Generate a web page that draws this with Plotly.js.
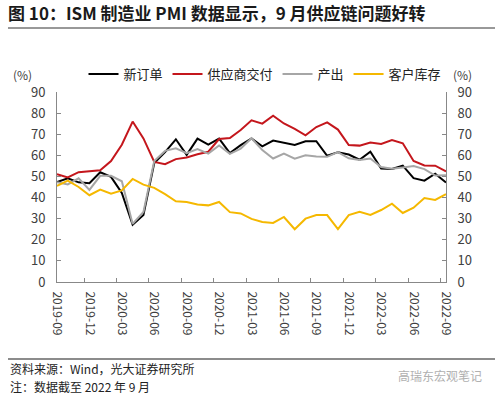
<!DOCTYPE html>
<html>
<head>
<meta charset="utf-8">
<script src="https://cdn.plot.ly/plotly-3.0.1.min.js"></script>
<style>
html,body{margin:0;padding:0;background:#fff;}
#chart{width:500px;height:395px;}
</style>
</head>
<body>
<div id="chart"></div>
<script>
const months = ["2019-09","2019-10","2019-11","2019-12","2020-01","2020-02","2020-03","2020-04","2020-05","2020-06","2020-07","2020-08","2020-09","2020-10","2020-11","2020-12","2021-01","2021-02","2021-03","2021-04","2021-05","2021-06","2021-07","2021-08","2021-09","2021-10","2021-11","2021-12","2022-01","2022-02","2022-03","2022-04","2022-05","2022-06","2022-07","2022-08","2022-09"];
const tickLabels = ["2019-09","2019-12","2020-03","2020-06","2020-09","2020-12","2021-03","2021-06","2021-09","2021-12","2022-03","2022-06","2022-09"];

// 新订单
const newOrders = [47.3,49.1,47.2,46.8,52.0,49.8,42.2,27.1,31.8,56.4,61.5,67.6,60.2,67.9,65.1,67.9,61.1,64.8,68.0,64.3,67.0,66.0,64.9,66.7,66.7,59.8,61.5,60.4,57.9,61.7,53.8,53.5,55.1,49.2,48.0,51.3,47.1];
// 供应商交付
const supplierDeliveries = [51.1,49.5,52.0,52.5,52.9,57.3,65.0,76.0,68.0,56.9,55.8,58.2,59.0,60.5,61.7,67.7,68.2,72.0,76.6,75.0,78.8,75.1,72.5,69.5,73.4,75.6,72.2,64.9,64.6,66.1,65.4,67.2,65.7,57.3,55.2,55.1,52.4];
// 产出
const production = [47.3,46.2,49.1,43.6,50.3,50.3,47.7,27.5,33.2,57.3,62.1,63.3,61.0,63.0,60.8,64.7,60.7,63.2,68.1,62.5,58.5,60.8,58.4,60.0,59.4,59.3,61.5,58.6,57.8,58.5,54.5,53.6,54.2,54.9,53.5,50.4,50.6];
// 客户库存
const customerInventories = [45.5,48.0,45.0,41.1,43.8,41.8,43.4,48.8,46.1,44.6,41.6,38.2,37.9,36.7,36.3,37.9,33.1,32.5,29.9,28.4,28.0,30.8,25.0,30.0,31.7,31.7,25.1,31.7,33.2,31.8,34.1,37.1,32.7,35.2,39.8,38.9,41.6];

const seriesNames = ["新订单","供应商交付","产出","客户库存"];
const seriesColors = ["#000000","#C4161C","#A6A6A6","#F5B800"];
const seriesData = [newOrders, supplierDeliveries, production, customerInventories];

const FONT = '"Noto Sans CJK SC", "Noto Sans", sans-serif';

const traces = seriesData.map((d,i)=>({
  type:'scatter', mode:'lines', x: months, y: d, name: seriesNames[i],
  line:{color: seriesColors[i], width:2}, hoverinfo:'skip'
}));
// invisible trace to activate the right axis
traces.push({type:'scatter', mode:'lines', x: months, y: newOrders, yaxis:'y2',
  line:{width:0, color:'rgba(0,0,0,0)'}, showlegend:false, hoverinfo:'skip'});

const axisCommon = {
  range:[0,90], dtick:10, tick0:0, ticks:'inside', ticklen:4, tickcolor:'#888',
  showline:true, linecolor:'#888', linewidth:1, showgrid:false, zeroline:false,
  tickfont:{family:FONT, size:13, color:'#404040'}, ticklabelstandoff:8, fixedrange:true
};

const layout = {
  width:500, height:395,
  margin:{l:57, r:54, t:92, b:113},
  paper_bgcolor:'#fff', plot_bgcolor:'#fff',
  font:{family:FONT, color:'#222'},
  title:{text:'<b>图 10：ISM 制造业 PMI 数据显示，9 月供应链问题好转</b>',
    font:{family:FONT, size:17, color:'#1a1a1a'},
    xref:'container', x:0.016, xanchor:'left', yref:'container', y:1-14/395, yanchor:'middle'},
  showlegend:true,
  legend:{orientation:'h', xref:'container', x:0.167, xanchor:'left', yref:'container', y:1-74/395, yanchor:'middle',
    font:{family:FONT, size:13, color:'#222'}, itemgap:0, bgcolor:'rgba(0,0,0,0)'},
  xaxis:{type:'category', tickmode:'array', tickvals:tickLabels, ticktext:tickLabels,
    tickangle:90, ticks:'inside', ticklen:4, tickcolor:'#888', tickson:'boundaries',
    showline:true, linecolor:'#888', linewidth:1, showgrid:false, zeroline:false,
    tickfont:{family:FONT, size:12, color:'#404040'}, ticklabelstandoff:6, fixedrange:true},
  yaxis: Object.assign({}, axisCommon, {side:'left'}),
  yaxis2: Object.assign({}, axisCommon, {side:'right', overlaying:'y'}),
  shapes:[
    {type:'line', xref:'paper', yref:'paper', x0:-0.126, x1:1.126, y0:(282-28)/190, y1:(282-28)/190, line:{color:'#333', width:1}},
    {type:'line', xref:'paper', yref:'paper', x0:-0.126, x1:1.126, y0:(282-359)/190, y1:(282-359)/190, line:{color:'#666', width:1.5}}
  ],
  annotations:[
    {text:'(%)', xref:'paper', yref:'paper', x:(22-57)/389, y:(282-75)/190, showarrow:false, xanchor:'center', yanchor:'middle', font:{family:FONT, size:12, color:'#404040'}},
    {text:'(%)', xref:'paper', yref:'paper', x:(462-57)/389, y:(282-75)/190, showarrow:false, xanchor:'center', yanchor:'middle', font:{family:FONT, size:12, color:'#404040'}},
    {text:'资料来源：Wind，光大证券研究所', xref:'paper', yref:'paper', x:(8-57)/389, y:(282-368)/190, showarrow:false, xanchor:'left', yanchor:'middle', font:{family:FONT, size:12, color:'#222'}},
    {text:'注：数据截至 2022 年 9 月', xref:'paper', yref:'paper', x:(8-57)/389, y:(282-386)/190, showarrow:false, xanchor:'left', yanchor:'middle', font:{family:FONT, size:12, color:'#222'}},
    {text:'高瑞东宏观笔记', xref:'paper', yref:'paper', x:(484-57)/389, y:(282-375)/190, showarrow:false, xanchor:'right', yanchor:'middle', font:{family:FONT, size:12, color:'#b0b0b0'}}
  ]
};

Plotly.newPlot('chart', traces, layout, {staticPlot:true, displayModeBar:false});
</script>
</body>
</html>
